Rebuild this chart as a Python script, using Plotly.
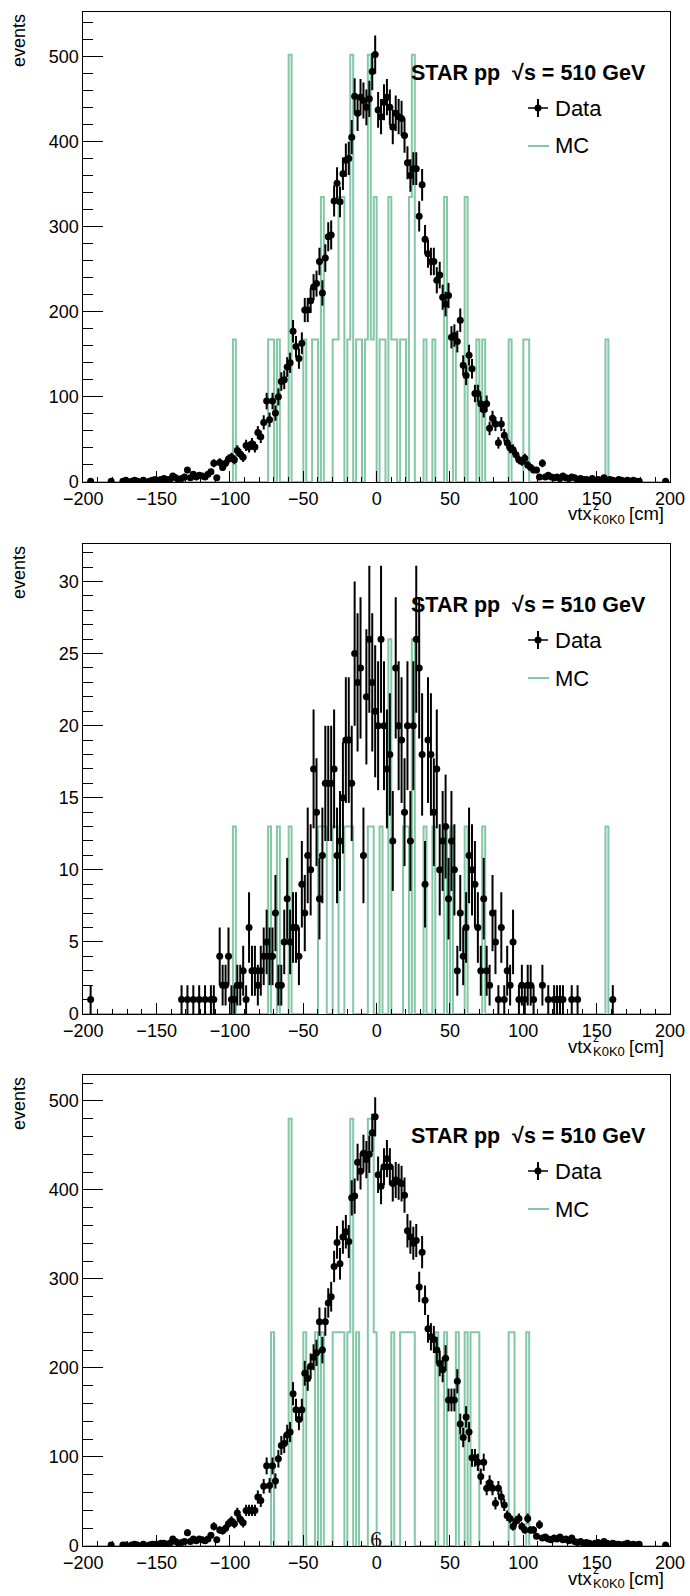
import numpy as np
import plotly.graph_objects as go

W, H = 690, 1596

# ---------------- data ----------------
bin_edges = list(range(-200, 202, 2))          # 200 bins of 2 cm
bin_centers = [e + 1 for e in bin_edges[:-1]]

data_all = [
    0, 0, 1, 0, 0, 0, 0, 0, 0, 1,
    0, 0, 0, 1, 2, 0, 1, 2, 1, 0,
    2, 0, 1, 2, 3, 2, 3, 4, 3, 3,
    7, 5, 2, 4, 6, 14, 5, 9, 6, 8,
    7, 6, 9, 12, 22, 5, 23, 17, 22, 27,
    29, 26, 37, 33, 29, 43, 41, 45, 41, 58,
    53, 70, 95, 73, 95, 81, 100, 118, 120, 135,
    140, 177, 159, 145, 163, 202, 202, 213, 229, 233,
    259, 222, 263, 288, 290, 330, 351, 329, 362, 378,
    380, 405, 453, 433, 452, 448, 440, 450, 482, 502,
    437, 429, 446, 452, 440, 417, 433, 429, 427, 407,
    375, 360, 368, 368, 312, 349, 285, 268, 259, 259,
    237, 243, 217, 209, 219, 170, 172, 165, 190, 137,
    125, 149, 133, 104, 104, 92, 85, 92, 63, 75,
    68, 46, 68, 55, 46, 40, 38, 32, 26, 24,
    28, 20, 17, 14, 14, 6, 22, 6, 8, 6,
    5, 6, 4, 7, 5, 4, 6, 5, 3, 4,
    3, 3, 2, 4, 2, 3, 2, 5, 2, 3,
    2, 1, 3, 2, 1, 2, 1, 2, 1, 1,
    0, 0, 0, 0, 0, 0, 0, 0, 1, 0,
]

data_mid = [
    0, 0, 1, 0, 0, 0, 0, 0, 0, 0,
    0, 0, 0, 0, 0, 0, 0, 0, 0, 0,
    0, 0, 0, 0, 0, 0, 0, 0, 0, 0,
    0, 0, 0, 1, 0, 1, 0, 1, 0, 1,
    0, 1, 0, 1, 1, 0, 4, 2, 2, 4,
    1, 1, 2, 2, 3, 1, 6, 3, 3, 2,
    3, 4, 5, 4, 4, 7, 2, 2, 5, 8,
    5, 6, 6, 4, 9, 7, 11, 10, 17, 14,
    8, 11, 16, 16, 16, 17, 11, 12, 15, 19,
    19, 16, 25, 23, 24, 11, 22, 26, 23, 21,
    20, 26, 20, 17, 18, 12, 24, 20, 19, 14,
    20, 12, 20, 26, 24, 18, 9, 19, 18, 14,
    17, 10, 12, 13, 8, 12, 10, 3, 7, 4,
    6, 11, 10, 9, 6, 3, 8, 3, 2, 7,
    5, 1, 6, 1, 3, 2, 5, 0, 1, 2,
    1, 2, 2, 1, 0, 0, 2, 0, 1, 0,
    1, 1, 1, 1, 0, 0, 1, 0, 1, 0,
    0, 0, 0, 0, 0, 0, 0, 0, 0, 0,
    1, 0, 0, 0, 0, 0, 0, 0, 0, 0,
    0, 0, 0, 0, 0, 0, 0, 0, 0, 0,
]

data_bot = [
    0, 0, 0, 0, 0, 0, 0, 0, 0, 1,
    0, 0, 0, 1, 1, 0, 1, 2, 1, 0,
    2, 0, 1, 2, 2, 2, 3, 3, 2, 3,
    8, 5, 3, 4, 5, 15, 5, 8, 6, 8,
    7, 6, 8, 12, 22, 7, 18, 17, 20, 25,
    28, 25, 37, 30, 26, 40, 40, 40, 40, 55,
    51, 67, 90, 68, 90, 73, 98, 113, 115, 125,
    128, 171, 153, 142, 153, 194, 188, 202, 212, 217,
    252, 220, 252, 273, 280, 314, 341, 317, 347, 353,
    342, 391, 393, 431, 421, 441, 434, 440, 464, 482,
    417, 404, 426, 435, 426, 407, 411, 409, 407, 394,
    354, 347, 340, 343, 291, 330, 276, 244, 235, 232,
    220, 205, 198, 211, 164, 164, 164, 185, 137, 122,
    145, 128, 99, 99, 94, 78, 94, 65, 71, 65,
    48, 65, 55, 46, 34, 31, 22, 28, 31, 22,
    18, 31, 18, 18, 11, 24, 9, 10, 8, 7,
    9, 8, 10, 7, 8, 6, 9, 5, 4, 5,
    3, 4, 3, 2, 3, 4, 2, 5, 3, 2,
    3, 2, 2, 1, 2, 3, 1, 2, 1, 2,
    0, 0, 0, 0, 0, 0, 0, 0, 1, 0,
]

# MC: unit counts per 2 cm bin (centre: count), scaled to data
mc_all_counts = {-97: 1, -73: 1, -71: 1, -67: 1, -59: 3, -49: 1, -43: 1, -41: 1,
                 -37: 2, -29: 1, -27: 1, -25: 2, -23: 2,
                 -19: 1, -17: 3, -13: 1, -11: 1, -7: 1, -5: 3,
                 -3: 1, -1: 2, 3: 1, 5: 1, 9: 2, 11: 1, 13: 1, 17: 1,
                 19: 1, 23: 2, 25: 3, 33: 1, 39: 1, 47: 2, 53: 1,
                 61: 2, 69: 1, 73: 1, 91: 1, 101: 1, 103: 1, 157: 1}
mc_mid_counts = {-97: 1, -73: 1, -67: 1, -59: 1, -39: 1, -37: 1, -35: 1,
                 -29: 1, -27: 1, -21: 1, -19: 1, -17: 1, -5: 1, -3: 1, 3: 1,
                 9: 2, 19: 1, 21: 1, 25: 2, 33: 1, 39: 1, 47: 1, 51: 1,
                 61: 1, 73: 1, 157: 1}
mc_bot_counts = {-71: 1, -59: 2, -49: 1, -41: 1, -37: 1, -29: 1,
                 -27: 1, -25: 1, -23: 1, -19: 1, -17: 2, -13: 1, -5: 2, -3: 2,
                 -1: 1, 11: 1, 17: 1, 19: 1, 21: 1, 23: 1, 25: 1, 41: 1, 47: 1,
                 55: 1, 61: 1, 65: 1, 67: 1, 69: 1, 91: 1, 93: 1, 103: 1}
mc_scale = [167.3, 13.0, 240.0]

y_max = [552, 32.6, 529]
y_major = [100, 5, 100]
y_minor = [20, 1, 20]
x_ticks = [-200, -150, -100, -50, 0, 50, 100, 150, 200]

# ---------------- layout helpers ----------------
frames = [(12, 482), (544, 1014), (1075, 1546)]   # top, bottom in px
XL, XR = 83.3, 670.0


def px(x):
    return x / W


def py(y):
    return 1 - y / H


GREEN = "#84c7a6"
FONT = "Liberation Sans, Arial, sans-serif"
fig = go.Figure()

datasets = [data_all, data_mid, data_bot]
mcs = [mc_all_counts, mc_mid_counts, mc_bot_counts]

for k in range(3):
    xa = "x" if k == 0 else f"x{k+1}"
    ya = "y" if k == 0 else f"y{k+1}"
    counts = [mcs[k].get(c, 0) * mc_scale[k] for c in bin_centers]
    step_x = bin_edges[:]
    step_y = counts + [counts[-1]]
    fig.add_trace(go.Scatter(x=step_x, y=step_y, mode="lines",
                             line=dict(color=GREEN, width=2, shape="hv"),
                             xaxis=xa, yaxis=ya, showlegend=False, hoverinfo="skip"))
    d = datasets[k]
    xs = [c for c, v in zip(bin_centers, d) if v > 0]
    ys = [v for v in d if v > 0]
    es = [float(np.sqrt(v)) for v in ys]
    fig.add_trace(go.Scatter(x=xs, y=ys, mode="markers",
                             marker=dict(color="black", size=7),
                             error_y=dict(type="data", array=es, visible=True,
                                          thickness=2, width=0, color="black"),
                             xaxis=xa, yaxis=ya, showlegend=False, hoverinfo="skip"))

layout = dict(width=W, height=H,
              margin=dict(l=0, r=0, t=0, b=0, pad=0, autoexpand=False),
              paper_bgcolor="white", plot_bgcolor="white", showlegend=False,
              font=dict(family=FONT, color="black"))

for k in range(3):
    top, bot = frames[k]
    xk = "xaxis" if k == 0 else f"xaxis{k+1}"
    yk = "yaxis" if k == 0 else f"yaxis{k+1}"
    ya = "y" if k == 0 else f"y{k+1}"
    xa = "x" if k == 0 else f"x{k+1}"
    layout[xk] = dict(domain=[px(XL), px(XR)], anchor=ya, range=[-200, 200],
                      automargin=False,
                      tickmode="array", tickvals=x_ticks,
                      ticks="inside", ticklen=11, tickwidth=1, tickcolor="black",
                      minor=dict(dtick=10, tick0=0, ticklen=5, ticks="inside",
                                 tickcolor="black", tickwidth=1),
                      showline=True, linecolor="black", linewidth=1, mirror=True,
                      showgrid=False, zeroline=False,
                      tickfont=dict(size=18, family=FONT))
    layout[yk] = dict(domain=[py(bot), py(top)], anchor=xa, range=[0, y_max[k]],
                      automargin=False,
                      dtick=y_major[k], tick0=0,
                      ticks="inside", ticklen=20, tickwidth=1, tickcolor="black",
                      minor=dict(dtick=y_minor[k], tick0=0, ticklen=10, ticks="inside",
                                 tickcolor="black", tickwidth=1),
                      showline=True, linecolor="black", linewidth=1, mirror=True,
                      showgrid=False, zeroline=False,
                      tickfont=dict(size=18, family=FONT))

fig.update_layout(**layout)

annotations = []
shapes = []


def ann(x, y, text, size, xanchor="left", yanchor="middle", angle=0, family=FONT,
        color="black"):
    annotations.append(dict(xref="paper", yref="paper", x=px(x), y=py(y), text=text,
                            showarrow=False, xanchor=xanchor, yanchor=yanchor,
                            textangle=angle, borderpad=0,
                            font=dict(size=size, family=family, color=color)))


for k in range(3):
    top, bot = frames[k]
    # y title
    ann(18.5, top + 1, "events", 18, xanchor="center", yanchor="top", angle=-90)
    # x title  vtx^z_{K0K0} [cm]
    ann(593, bot + 32, "vtx", 18.5, xanchor="right")
    ann(592, bot + 24, "z", 12.5, xanchor="left")
    ann(592, bot + 37, "K0K0", 13, xanchor="left")
    ann(665, bot + 32, "[cm]", 18.5, xanchor="right")
    # STAR label
    ann(410, top + 61, "<b>STAR pp  \u221as = 510 GeV</b>", 21.5)
    # legend entries
    ann(554, top + 96, "Data", 22)
    ann(554, top + 134, "MC", 22)
    ly = top + 96
    shapes.append(dict(type="line", xref="paper", yref="paper", x0=px(528), x1=px(548),
                       y0=py(ly), y1=py(ly), line=dict(color="black", width=1.5)))
    shapes.append(dict(type="line", xref="paper", yref="paper", x0=px(538), x1=px(538),
                       y0=py(ly - 9), y1=py(ly + 9), line=dict(color="black", width=2)))
    shapes.append(dict(type="circle", xref="paper", yref="paper", x0=px(534.5), x1=px(541.5),
                       y0=py(ly - 3.5), y1=py(ly + 3.5), fillcolor="black",
                       line=dict(color="black", width=0)))
    my = top + 134
    shapes.append(dict(type="line", xref="paper", yref="paper", x0=px(528), x1=px(549),
                       y0=py(my), y1=py(my), line=dict(color=GREEN, width=2)))

ann(376, 1539, "6", 24, xanchor="center", family="Liberation Serif", color="#222")

fig.update_layout(annotations=annotations, shapes=shapes)
fig.write_html("out.html",
               config={"displayModeBar": False},
               post_script="document.body.style.margin='0';"
                           "document.body.style.padding='0';"
                           "document.body.style.overflow='hidden';")
